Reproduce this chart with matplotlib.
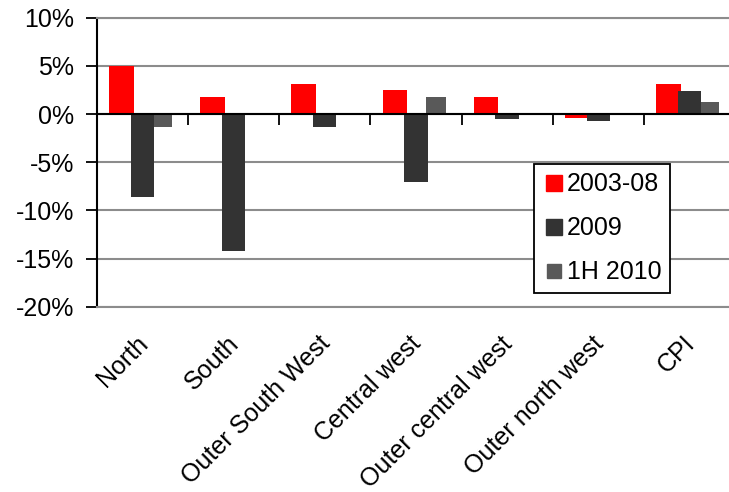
import matplotlib
matplotlib.use("Agg")
import matplotlib.pyplot as plt
from matplotlib.lines import Line2D
from matplotlib.transforms import ScaledTranslation
import numpy as np

plt.rcParams['font.family'] = ['Liberation Sans', 'DejaVu Sans']

regions = ['North', 'South', 'Outer South West', 'Central west',
           'Outer central west', 'Outer north west', 'CPI']
s_0308 = [5.0, 1.8, 3.1, 2.5, 1.8, -0.4, 3.1]
s_2009 = [-8.6, -14.2, -1.3, -7.1, -0.5, -0.7, 2.4]
s_1h2010 = [-1.3, 0.0, 0.0, 1.8, 0.0, 0.0, 1.2]
yticks = [10, 5, 0, -5, -10, -15, -20]

red = '#ff0000'
dark = '#333333'
grey = '#595959'
gridc = '#8c8c8c'
fs = 18

W, H = 729, 492
fig = plt.figure(figsize=(W / 100, H / 100), dpi=100)
left, right = 96.7, 96.7 + 7 * 91.2
top, bottom = 17.7, 306.7
ax = fig.add_axes([left / W, 1 - bottom / H, (right - left) / W, (bottom - top) / H])

x = np.arange(len(regions))
ax.bar(x - 0.23, s_0308, width=0.27, color=red, zorder=3)
ax.bar(x, s_2009, width=0.255, color=dark, zorder=4)
ax.bar(x + 0.22, s_1h2010, width=0.215, color=grey, zorder=3)
ax.axhline(0, color='black', lw=1.5, zorder=5)

ax.set_xlim(-0.5, 6.5)
ax.set_ylim(-20, 10)
ax.set_yticks(yticks)
ax.set_yticklabels([f'{v}%' for v in yticks], fontsize=fs)
ax.yaxis.grid(True, color=gridc, lw=1.5, zorder=0)
ax.tick_params(axis='y', direction='out', length=8, width=1.3, color='black', pad=8.5)

ax.set_xticks(x)
ax.set_xticklabels(regions, fontsize=fs, rotation=45, ha='right', va='top',
                   rotation_mode='anchor')
ax.tick_params(axis='x', length=0, pad=0)
shift = ScaledTranslation(-7 / 100, -25 / 100, fig.dpi_scale_trans)
for lab in ax.get_xticklabels():
    lab.set_transform(lab.get_transform() + shift)

for s in ['top', 'bottom']:
    ax.spines[s].set_color(gridc)
    ax.spines[s].set_linewidth(1.5)
ax.spines['right'].set_visible(False)
ax.spines['left'].set_linewidth(1.5)

# category separators on the zero line
zero = ax.secondary_xaxis(20 / 30)
zero.set_xticks(np.arange(0.5, 7, 1))
zero.set_xticklabels([])
zero.tick_params(direction='in', length=8, width=1.3)
zero.spines['bottom'].set_visible(False)
zero.spines['top'].set_visible(False)

handles = [
    Line2D([], [], ls='none', marker='s', ms=11.5, color=red),
    Line2D([], [], ls='none', marker='s', ms=11.5, color=dark),
    Line2D([], [], ls='none', marker='s', ms=9.5, color=grey),
]
leg = ax.legend(handles, ['2003-08', '2009', '1H 2010'], fontsize=fs,
                loc='upper left', bbox_to_anchor=(534.3 / W, 1 - 163.7 / H),
                bbox_transform=fig.transFigure, borderaxespad=0, fancybox=False,
                framealpha=1, edgecolor='black', handletextpad=0.05,
                handlelength=0.9, labelspacing=0.8, borderpad=0.35)
leg.get_frame().set_linewidth(1.3)
leg.set_zorder(10)

fig.savefig('out.png', dpi=100)
